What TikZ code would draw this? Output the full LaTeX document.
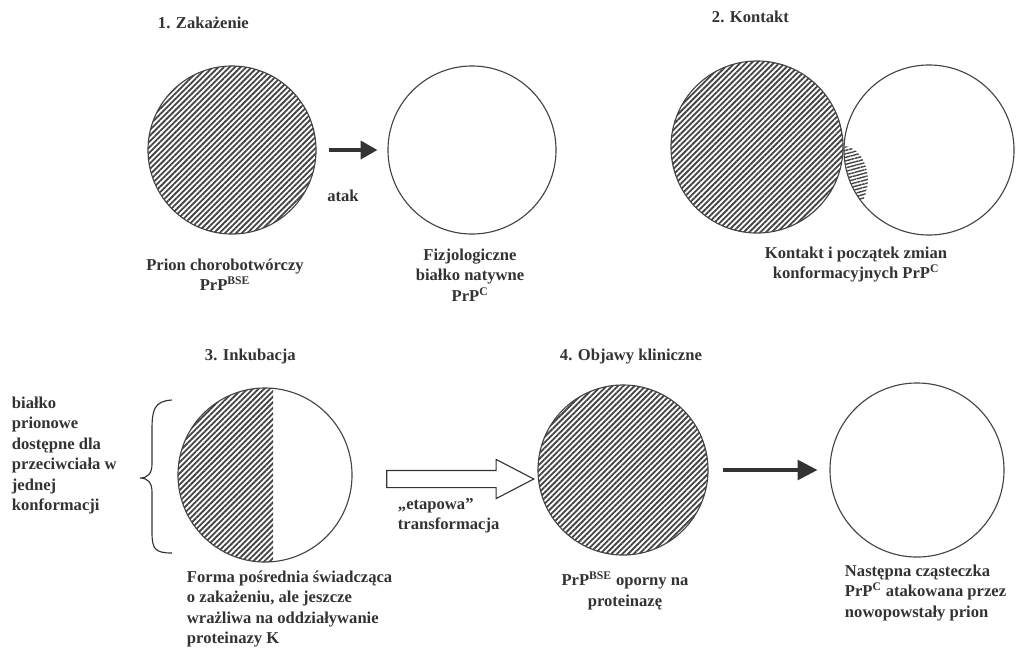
\documentclass[tikz,border=0pt]{standalone}
\usepackage{fontspec}
\setmainfont{Liberation Serif}
\usetikzlibrary{arrows.meta, positioning, patterns.meta, shapes.arrows}
\definecolor{inkgray}{HTML}{333333}
\definecolor{hatchgray}{HTML}{444444}
\tikzset{every node/.style={font=\bfseries\fontsize{11.8}{14.5}\selectfont, text=inkgray}}

\begin{document}
\begin{tikzpicture}[
  x=0.025cm, y=-0.025cm,
  circnode/.style={circle, draw=hatchgray, line width=0.8pt, inner sep=0pt},
  hatchfill/.style={pattern={Lines[angle=45, distance=2.8pt, line width=1.3pt]}, pattern color=hatchgray},
  capnode/.style={align=center, anchor=north},
  textnode/.style={align=left, anchor=north west},
  titlenode/.style={anchor=west},
  solidarrow/.style={draw=inkgray, line width=2.3pt}
]
  \path[use as bounding box, fill=white] (0,0) rectangle (1025,653);

  % 1. Zakazenie
  \node[titlenode] (t1) at (153,23) {1. Zakażenie};
  \node[circnode, hatchfill, minimum size=4.2cm] (prion) at (232,150) {};
  \node[circnode, minimum size=4.2cm] (native) at (472,150) {};
  \draw[solidarrow, -{Triangle[length=12pt, width=13pt]}, shorten <=0.3cm, shorten >=0.25cm] (prion) -- (native);
  \node (atak) at (343,196) {atak};
  \node[capnode] (cap1) at (225,254) {Prion chorobotwórczy\\PrP\textsuperscript{BSE}};
  \node[capnode] (cap2) at (470,244) {Fizjologiczne\\białko natywne\\PrP\textsuperscript{C}};

  % 2. Kontakt
  \node[titlenode] (t2) at (707,17) {2. Kontakt};
  \node[circnode, hatchfill, minimum size=4.3cm] (contact) at (757,147) {};
  \node[circnode, minimum size=4.25cm,
    path picture={\fill[pattern={Lines[angle=15, distance=2.4pt, line width=1pt]}, pattern color=hatchgray]
      ([xshift=-2.15cm, yshift=-0.75cm]path picture bounding box.center) ellipse[x radius=0.62cm, y radius=0.85cm];}
  ] (touched) at (929,150) {};
  \node[capnode] (cap3) at (856,242) {Kontakt i początek zmian\\konformacyjnych PrP\textsuperscript{C}};

  % 3. Inkubacja
  \node[titlenode] (t3) at (200,357) {3. Inkubacja};
  \node[circnode, minimum size=4.35cm,
    path picture={\fill[hatchfill] (path picture bounding box.south west) rectangle ([xshift=0.2cm]path picture bounding box.north);}
  ] (incub) at (265,475) {};
  \draw[inkgray, line width=0.8pt] (172,400) .. controls (154,401) and (152,410) .. (152,430) -- (152,464)
    .. controls (152,473) and (148,478) .. (140,478) .. controls (148,478) and (152,483) .. (152,492)
    -- (152,532) .. controls (152,549) and (155,553) .. (172,553);
  \node[textnode] (access) at (7,392) {białko\\prionowe\\dostępne dla\\przeciwciała w\\jednej\\konformacji};
  \node[textnode] (cap5) at (182,566) {Forma pośrednia świadcząca\\o zakażeniu, ale jeszcze\\wrażliwa na oddziaływanie\\proteinazy K};
  \node[single arrow, draw=inkgray, line width=0.8pt, fill=white, minimum height=3.675cm,
    inner sep=0.2cm, single arrow head extend=0.275cm, single arrow tip angle=55] (stepwise) at (452,479) {};
  \node[textnode] (steplab) at (393,493) {„etapowa”\\transformacja};

  % 4. Objawy kliniczne
  \node[titlenode] (t4) at (555,357) {4. Objawy kliniczne};
  \node[circnode, hatchfill, minimum size=4.25cm] (clinical) at (623,470) {};
  \node[circnode, minimum size=4.35cm] (nextone) at (917,470) {};
  \draw[solidarrow, -{Triangle[length=14pt, width=14pt]}, shorten <=0.35cm, shorten >=0.3cm] (clinical) -- (nextone);
  \node[capnode] (cap6) at (625,567) {PrP\textsuperscript{BSE} oporny na\\proteinazę};
  \node[textnode] (cap7) at (840,560) {Następna cząsteczka\\PrP\textsuperscript{C} atakowana przez\\nowopowstały prion};
\end{tikzpicture}
\end{document}
